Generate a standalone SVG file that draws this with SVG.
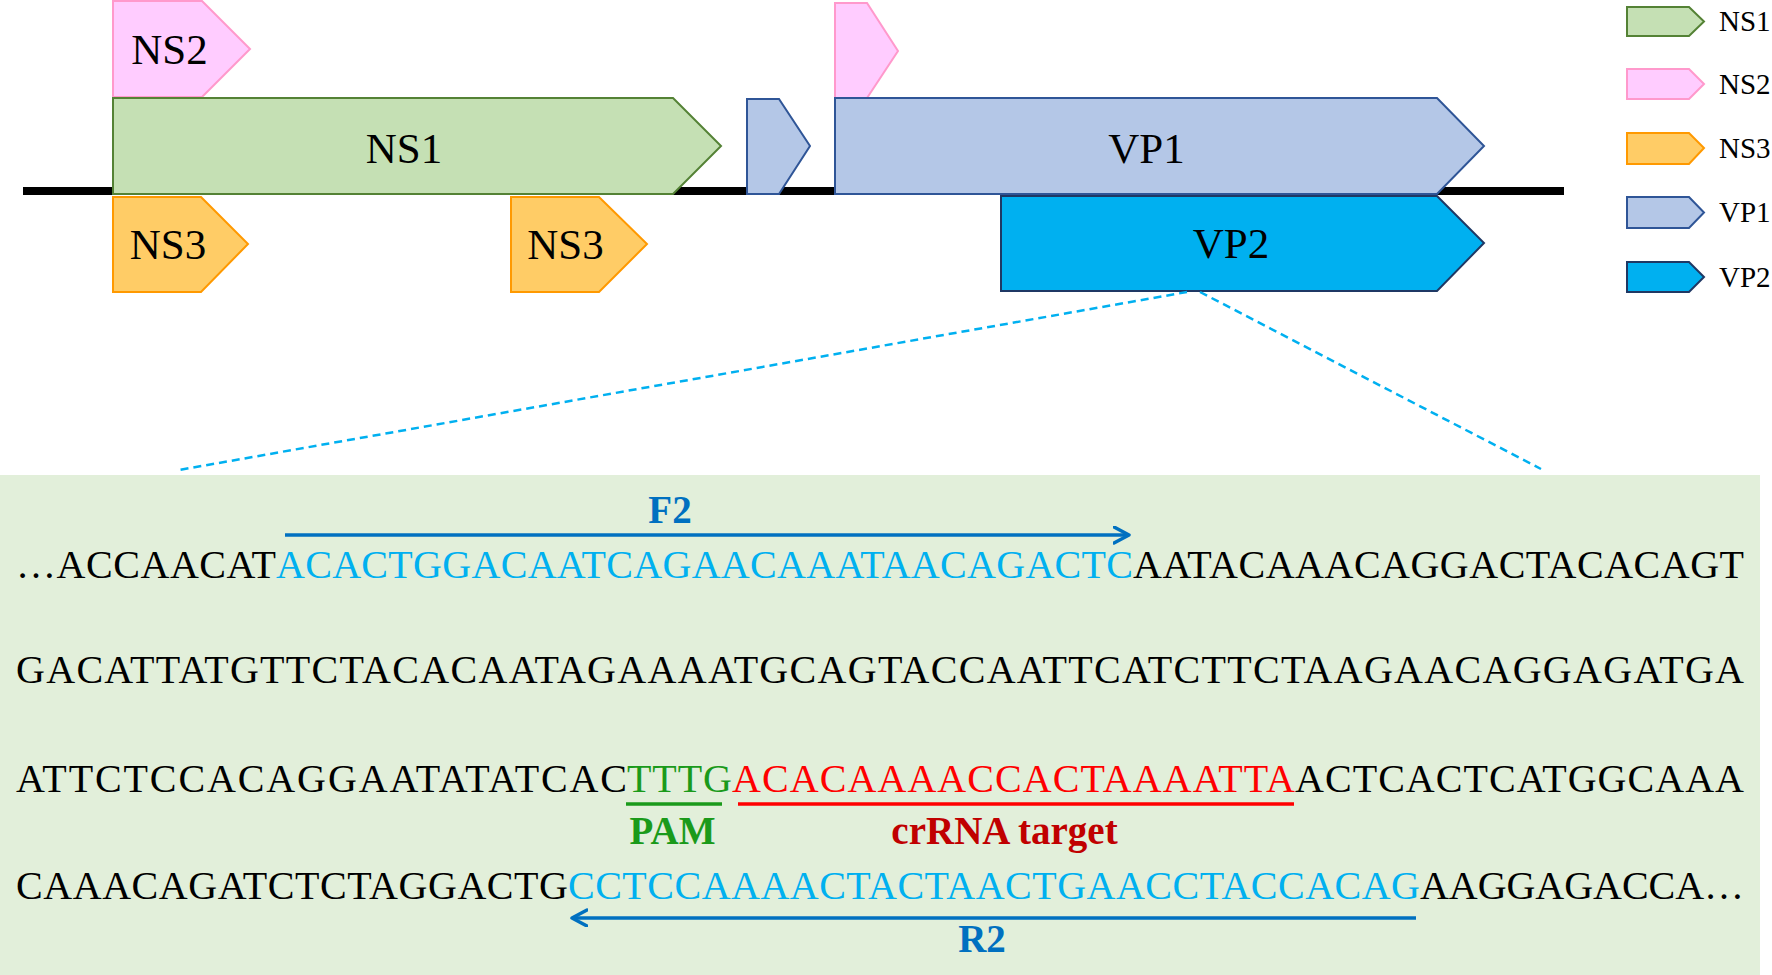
<svg xmlns="http://www.w3.org/2000/svg" width="1772" height="975" viewBox="0 0 1772 975">
<defs>
<style>
.lbl{font-family:"Liberation Serif","Times New Roman",serif;fill:#000;text-anchor:middle}
.big{font-size:43px}
.leg{font-family:"Liberation Serif","Times New Roman",serif;font-size:29px;fill:#000}
.seq{font-family:"Liberation Serif","Times New Roman",serif;font-size:40px}
.k{fill:#000}
.pb{fill:#00B0F0}
.pam{fill:#1A9A1A}
.tg{fill:#FF0000}
.bold{font-family:"Liberation Serif","Times New Roman",serif;font-weight:bold;font-size:39px;text-anchor:middle}
.ns1{fill:#C5E0B4;stroke:#548235;stroke-width:2}
.ns2{fill:#FFCCFF;stroke:#FF99CC;stroke-width:2}
.ns3{fill:#FFCC66;stroke:#FF9900;stroke-width:2}
.vp1{fill:#B4C7E7;stroke:#2F5597;stroke-width:2}
.vp2{fill:#00B0F0;stroke:#1F3864;stroke-width:2}
.zoom{fill:none;stroke:#00B0F0;stroke-width:2.5;stroke-dasharray:8 5}
.prim{fill:none;stroke:#0070C0;stroke-width:3.5}
</style>
<marker id="chev" markerUnits="userSpaceOnUse" markerWidth="22" markerHeight="22" refX="16" refY="9" orient="auto">
<path d="M1,1 L16,9 L1,17" fill="none" stroke="#0070C0" stroke-width="3.5" stroke-linecap="round" stroke-linejoin="round"/>
</marker>
</defs>
<rect x="0" y="0" width="1772" height="975" fill="#FFFFFF"/>
<rect id="panel" x="0" y="475" width="1760" height="500" fill="#E2EFDA"/>
<rect id="genome" x="23" y="187" width="1541" height="8" fill="#000"/>

<g id="ns2-a"><polygon class="ns2" points="113,1 202,1 250,49 202,97 113,97"/><text class="lbl big" x="169.5" y="64">NS2</text></g>
<g id="ns1"><polygon class="ns1" points="113,98 673,98 721,146 673,194 113,194"/><text class="lbl big" x="404" y="163">NS1</text></g>
<g id="vp1-a"><polygon class="vp1" points="747,99 779,99 810,146 779,194 747,194"/></g>
<g id="ns2-b"><polygon class="ns2" points="835,3 867,3 898,51 867,98 835,98"/></g>
<g id="vp1"><polygon class="vp1" points="835,98 1437,98 1484,146 1437,194 835,194"/><text class="lbl big" x="1146.5" y="163">VP1</text></g>
<g id="ns3-a"><polygon class="ns3" points="113,197 201,197 248,244 201,292 113,292"/><text class="lbl big" x="168" y="259">NS3</text></g>
<g id="ns3-b"><polygon class="ns3" points="511,197 599,197 647,244 599,292 511,292"/><text class="lbl big" x="565.5" y="259">NS3</text></g>
<g id="vp2"><polygon class="vp2" points="1001,196 1437,196 1484,243 1437,291 1001,291"/><text class="lbl big" x="1231" y="258">VP2</text></g>

<g id="legend">
<g id="leg-ns1"><polygon class="ns1" points="1627,7 1689,7 1704,21.5 1689,36 1627,36"/><text class="leg" x="1719" y="31">NS1</text></g>
<g id="leg-ns2"><polygon class="ns2" points="1627,69 1689,69 1704,84 1689,99 1627,99"/><text class="leg" x="1719" y="94">NS2</text></g>
<g id="leg-ns3"><polygon class="ns3" points="1627,133 1689,133 1704,148 1689,164 1627,164"/><text class="leg" x="1719" y="158">NS3</text></g>
<g id="leg-vp1"><polygon class="vp1" points="1627,197 1689,197 1704,212.5 1689,228 1627,228"/><text class="leg" x="1719" y="222">VP1</text></g>
<g id="leg-vp2"><polygon class="vp2" points="1627,262 1689,262 1704,277 1689,292 1627,292"/><text class="leg" x="1719" y="287">VP2</text></g>
</g>

<g id="connectors">
<line class="zoom" x1="1187" y1="292" x2="179" y2="470"/>
<line class="zoom" x1="1200" y1="292" x2="1541" y2="469"/>
<line id="f2-arrow" class="prim" x1="285" y1="535" x2="1129" y2="535" marker-end="url(#chev)"/>
<line id="r2-arrow" class="prim" x1="1416" y1="918" x2="572" y2="918" marker-end="url(#chev)"/>
<line id="pam-line" x1="626" y1="804" x2="722" y2="804" stroke="#1A9A1A" stroke-width="3.5"/>
<line id="target-line" x1="738" y1="804" x2="1294" y2="804" stroke="#FF0000" stroke-width="3.5"/>
</g>

<g id="sequence">
<g id="line1">
<text class="seq k" x="16" y="578" textLength="260" lengthAdjust="spacing">…ACCAACAT</text>
<text class="seq pb" x="276" y="578" textLength="857" lengthAdjust="spacing">ACACTGGACAATCAGAACAAATAACAGACTC</text>
<text class="seq k" x="1133" y="578" textLength="611" lengthAdjust="spacing">AATACAAACAGGACTACACAGT</text>
</g>
<g id="line2">
<text class="seq k" x="16" y="683" textLength="1728" lengthAdjust="spacing">GACATTATGTTCTACACAATAGAAAATGCAGTACCAATTCATCTTCTAAGAACAGGAGATGA</text>
</g>
<g id="line3">
<text class="seq k" x="16" y="792" textLength="611" lengthAdjust="spacing">ATTCTCCACAGGAATATATCAC</text>
<text class="seq pam" x="627" y="792" textLength="105" lengthAdjust="spacing">TTTG</text>
<text class="seq tg" x="732" y="792" textLength="563" lengthAdjust="spacing">ACACAAAACCACTAAAATTA</text>
<text class="seq k" x="1295" y="792" textLength="449" lengthAdjust="spacing">ACTCACTCATGGCAAA</text>
</g>
<g id="line4">
<text class="seq k" x="16" y="899" textLength="552" lengthAdjust="spacing">CAAACAGATCTCTAGGACTG</text>
<text class="seq pb" x="568" y="899" textLength="852" lengthAdjust="spacing">CCTCCAAAACTACTAACTGAACCTACCACAG</text>
<text class="seq k" x="1420" y="899" textLength="324" lengthAdjust="spacing">AAGGAGACCA…</text>
</g>
</g>

<g id="labels">
<text id="f2" class="bold" x="670" y="523" fill="#0070C0">F2</text>
<text id="pam" class="bold" x="672.5" y="844" fill="#1A9A1A">PAM</text>
<text id="crrna" class="bold" x="1004.5" y="844" fill="#C00000">crRNA target</text>
<text id="r2" class="bold" x="982" y="952" fill="#0070C0">R2</text>
</g>
</svg>
